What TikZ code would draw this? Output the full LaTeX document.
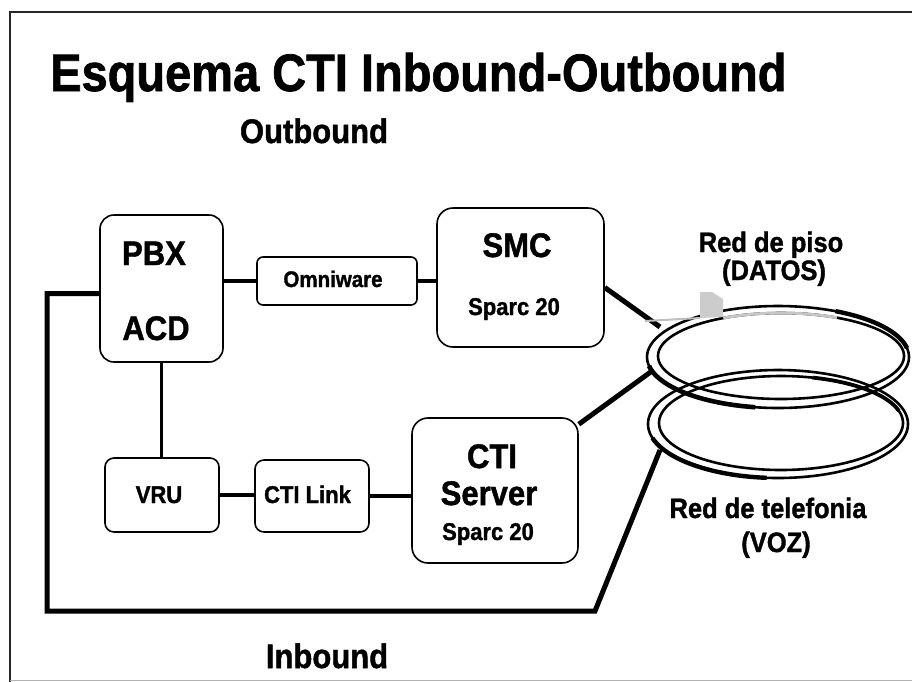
\documentclass[tikz,border=0pt]{standalone}
\usepackage{fontspec}
\setmainfont{Liberation Sans}[BoldFeatures={FakeBold=1.4}]
\newcommand\tallt[1]{\scalebox{1}[1.1]{#1}}
\begin{document}
\begin{tikzpicture}[x=1pt, y=-1pt,
  box/.style={draw, line width=1.6pt, inner sep=0pt},
  link/.style={line width=3.8pt},
  heavy/.style={line width=5pt},
  ringline/.style={line width=2.6pt},
  big/.style={inner sep=0pt, anchor=base, font=\bfseries\fontsize{31}{31}\selectfont},
  small/.style={inner sep=0pt, anchor=base, font=\bfseries\fontsize{22}{22}\selectfont},
  netlbl/.style={inner sep=0pt, anchor=base, font=\bfseries\fontsize{25.5}{25.5}\selectfont}]
\useasboundingbox (0,0) rectangle (912,681);

% page frame
\draw[line width=1.3pt, black!85] (10,700) -- (10,12) -- (930,12);
\draw[line width=1pt, black!30] (10,680) -- (912,680);

% title and section labels
\node[inner sep=0pt, anchor=base west, font=\bfseries\fontsize{47}{47}\selectfont] (title) at (50,91) {\scalebox{1}[1.12]{Esquema CTI Inbound-Outbound}};
\node[big] (outlbl) at (314,143) {\tallt{Outbound}};
\node[big] (inlbl) at (327,668) {\tallt{Inbound}};

% equipment boxes
\node[box, rounded corners=14pt, minimum width=123pt, minimum height=147pt] (pbx) at (161.5,288.5) {};
\node[box, rounded corners=6pt, minimum width=160pt, minimum height=48pt] (omni) at (337,281) {};
\node[box, rounded corners=16pt, minimum width=167pt, minimum height=139pt] (smc) at (520.5,277.5) {};
\node[box, rounded corners=9pt, minimum width=114pt, minimum height=74pt] (vru) at (162,495) {};
\node[box, rounded corners=9pt, minimum width=114pt, minimum height=72pt] (ctilink) at (312,496) {};
\node[box, rounded corners=16pt, minimum width=166pt, minimum height=145pt] (ctis) at (495,490.5) {};

% box texts
\node[big] (tpbx) at (154,265) {\tallt{PBX}};
\node[big] (tacd) at (156,340) {\tallt{ACD}};
\node[small, font=\bfseries\fontsize{20.5}{20.5}\selectfont] (tomni) at (333,287) {\tallt{Omniware}};
\node[big] (tsmc) at (517,257) {\tallt{SMC}};
\node[small] (tsparcA) at (514,315) {\tallt{Sparc 20}};
\node[small] (tvru) at (159,503) {\tallt{VRU}};
\node[small] (tlink) at (307.5,503) {\tallt{CTI Link}};
\node[big] (tcti) at (492,468) {\tallt{CTI}};
\node[big] (tserver) at (489,505) {\tallt{Server}};
\node[small] (tsparcB) at (488,540) {\tallt{Sparc 20}};

% network labels
\node[netlbl] (datosA) at (771,252) {\tallt{Red de piso}};
\node[netlbl] (datosB) at (774,280) {\tallt{(DATOS)}};
\node[netlbl] (vozA) at (768,518) {\tallt{Red de telefonia}};
\node[netlbl] (vozB) at (776,552) {\tallt{(VOZ)}};

% attachment points on the rings
\coordinate (datajoinA) at (660,327);
\coordinate (datajoinB) at (652,371);
\coordinate (vozjoin) at (660,450);
\coordinate (loopA) at (47,293.5);
\coordinate (loopB) at (47,611);
\coordinate (loopC) at (595,611);

% connectors
\draw[link] (pbx.east |- omni.west) -- (omni.west);
\draw[link] (omni.east) -- (omni.east -| smc.west);
\draw[link] (pbx.south) -- (pbx.south |- vru.north);
\draw[link] (vru.east) -- (vru.east -| ctilink.west);
\draw[link] (ctilink.east) -- (ctilink.east -| ctis.west);
\draw[heavy] ([yshift=-10pt]smc.east) -- (datajoinA);
\draw[heavy] ([yshift=-7pt]ctis.north east) -- (datajoinB);
\draw[heavy, line join=miter] ([yshift=-5pt]pbx.west) -- (loopA) -- (loopB) -- (loopC) -- (vozjoin);

% voice network ring (lower)
\draw[ringline] plot[domain=0:360, samples=145] ({778+130*cos(\x)}, {424+54*sin(\x)});
\draw[ringline] plot[domain=0:360, samples=145] ({781+122*cos(\x)}, {423+47*sin(\x)});
\draw[line width=4.4pt] plot[domain=95:165, samples=40] ({778+130*cos(\x)}, {424+54*sin(\x)});
\draw[line width=3.8pt] plot[domain=285:345, samples=40] ({781+122*cos(\x)}, {423+47*sin(\x)});

% data network ring (upper)
\draw[ringline] plot[domain=0:360, samples=145] ({778+131*cos(\x)}, {357+51*sin(\x)});
\draw[ringline] plot[domain=0:360, samples=145] ({781+123*cos(\x)}, {356+43*sin(\x)});
\draw[line width=4.6pt] plot[domain=100:170, samples=40] ({778+131*cos(\x)}, {357+51*sin(\x)});
\draw[line width=4.4pt] plot[domain=296:350, samples=40] ({778+131*cos(\x)}, {357+51*sin(\x)});
\draw[line width=2.8pt, gray!45] plot[domain=242:297, samples=40] ({781+123*cos(\x)}, {356+43*sin(\x)});

% grey tab on the data ring
\draw[line width=2pt, gray!50] (645,321) -- (700,318);
\fill[gray!40] (700,292) -- (712,292) -- (723,299) -- (723,317) -- (700,318) -- cycle;
\end{tikzpicture}
\end{document}
